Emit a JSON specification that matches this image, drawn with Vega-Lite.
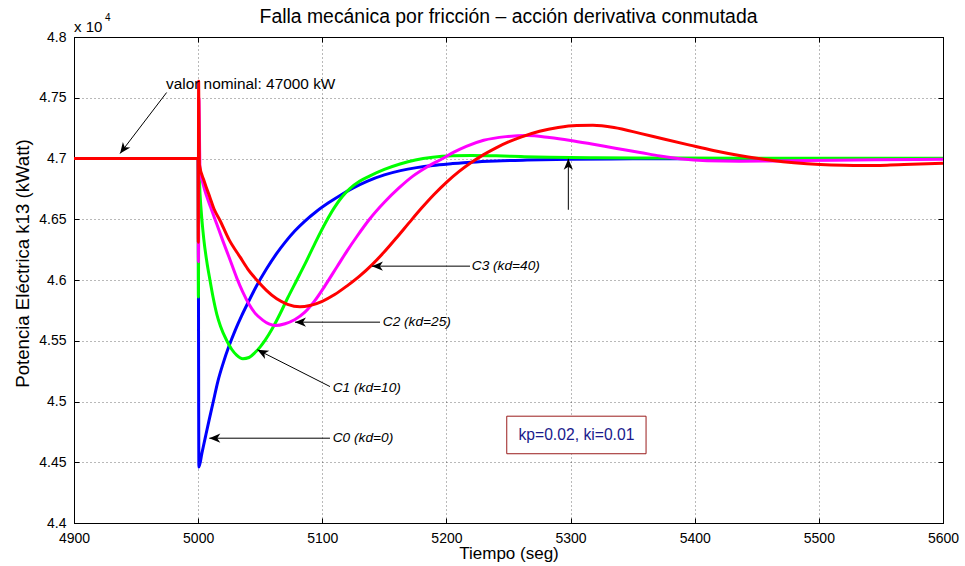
{
  "$schema": "https://vega.github.io/schema/vega-lite/v6.json",
  "width": 869,
  "height": 486,
  "autosize": {"type": "none"},
  "padding": {"left": 74, "top": 37, "right": 22, "bottom": 43},
  "background": "white",
  "config": {
    "font": "Liberation Sans",
    "view": {"stroke": "#000", "strokeWidth": 1},
    "axis": {"labelFont": "Liberation Sans", "titleFont": "Liberation Sans", "labelColor": "#000", "titleColor": "#000", "titleFontWeight": "normal"}
  },
  "datasets": {
    "curves": [
      {"s": "C0", "t": 4900, "p": 47000}, {"s": "C0", "t": 5000, "p": 47000}, {"s": "C0", "t": 5000.6, "p": 44460},
      {"s": "C0", "t": 5003, "p": 44573}, {"s": "C0", "t": 5006, "p": 44715}, {"s": "C0", "t": 5009, "p": 44855},
      {"s": "C0", "t": 5012, "p": 44990}, {"s": "C0", "t": 5016, "p": 45170}, {"s": "C0", "t": 5020, "p": 45310},
      {"s": "C0", "t": 5025, "p": 45460}, {"s": "C0", "t": 5030, "p": 45590}, {"s": "C0", "t": 5035, "p": 45705},
      {"s": "C0", "t": 5040, "p": 45810}, {"s": "C0", "t": 5047, "p": 45950}, {"s": "C0", "t": 5055, "p": 46090},
      {"s": "C0", "t": 5063, "p": 46215}, {"s": "C0", "t": 5070, "p": 46310}, {"s": "C0", "t": 5078, "p": 46405},
      {"s": "C0", "t": 5086, "p": 46485}, {"s": "C0", "t": 5095, "p": 46562}, {"s": "C0", "t": 5105, "p": 46635},
      {"s": "C0", "t": 5115, "p": 46700}, {"s": "C0", "t": 5125, "p": 46758}, {"s": "C0", "t": 5136, "p": 46812},
      {"s": "C0", "t": 5150, "p": 46865}, {"s": "C0", "t": 5163, "p": 46900}, {"s": "C0", "t": 5176, "p": 46925},
      {"s": "C0", "t": 5189, "p": 46943}, {"s": "C0", "t": 5205, "p": 46958}, {"s": "C0", "t": 5220, "p": 46970},
      {"s": "C0", "t": 5240, "p": 46980}, {"s": "C0", "t": 5265, "p": 46987}, {"s": "C0", "t": 5300, "p": 46993},
      {"s": "C0", "t": 5350, "p": 46997}, {"s": "C0", "t": 5420, "p": 46999}, {"s": "C0", "t": 5500, "p": 47000},
      {"s": "C0", "t": 5600, "p": 47000},

      {"s": "C1", "t": 4900, "p": 47000}, {"s": "C1", "t": 5000, "p": 47000}, {"s": "C1", "t": 5000.2, "p": 45860},
      {"s": "C1", "t": 5000.6, "p": 46900}, {"s": "C1", "t": 5001.5, "p": 46710}, {"s": "C1", "t": 5003, "p": 46500},
      {"s": "C1", "t": 5004.5, "p": 46340}, {"s": "C1", "t": 5007, "p": 46150}, {"s": "C1", "t": 5009.5, "p": 46000},
      {"s": "C1", "t": 5012, "p": 45860}, {"s": "C1", "t": 5015, "p": 45720}, {"s": "C1", "t": 5018, "p": 45620},
      {"s": "C1", "t": 5023, "p": 45502}, {"s": "C1", "t": 5027, "p": 45430}, {"s": "C1", "t": 5031, "p": 45382},
      {"s": "C1", "t": 5036, "p": 45352}, {"s": "C1", "t": 5041, "p": 45362}, {"s": "C1", "t": 5046, "p": 45405},
      {"s": "C1", "t": 5050, "p": 45450}, {"s": "C1", "t": 5054, "p": 45505}, {"s": "C1", "t": 5060, "p": 45605},
      {"s": "C1", "t": 5066, "p": 45722}, {"s": "C1", "t": 5072, "p": 45850}, {"s": "C1", "t": 5079, "p": 45990},
      {"s": "C1", "t": 5086, "p": 46130}, {"s": "C1", "t": 5094, "p": 46300}, {"s": "C1", "t": 5103.6, "p": 46490},
      {"s": "C1", "t": 5110, "p": 46600}, {"s": "C1", "t": 5116, "p": 46685}, {"s": "C1", "t": 5122, "p": 46750},
      {"s": "C1", "t": 5130, "p": 46812}, {"s": "C1", "t": 5138, "p": 46855}, {"s": "C1", "t": 5150, "p": 46910},
      {"s": "C1", "t": 5162.6, "p": 46955}, {"s": "C1", "t": 5175, "p": 46988}, {"s": "C1", "t": 5189, "p": 47010},
      {"s": "C1", "t": 5205, "p": 47022}, {"s": "C1", "t": 5220, "p": 47025}, {"s": "C1", "t": 5240, "p": 47022},
      {"s": "C1", "t": 5260, "p": 47016}, {"s": "C1", "t": 5283, "p": 47010}, {"s": "C1", "t": 5320, "p": 47006},
      {"s": "C1", "t": 5380, "p": 47004}, {"s": "C1", "t": 5450, "p": 47003}, {"s": "C1", "t": 5600, "p": 47002},

      {"s": "C2", "t": 4900, "p": 47000}, {"s": "C2", "t": 5000, "p": 47000}, {"s": "C2", "t": 5000.2, "p": 46150},
      {"s": "C2", "t": 5000.6, "p": 47500}, {"s": "C2", "t": 5001.5, "p": 46900}, {"s": "C2", "t": 5002.5, "p": 46850},
      {"s": "C2", "t": 5005, "p": 46750}, {"s": "C2", "t": 5010, "p": 46600}, {"s": "C2", "t": 5015, "p": 46460},
      {"s": "C2", "t": 5020, "p": 46320}, {"s": "C2", "t": 5025, "p": 46185}, {"s": "C2", "t": 5031, "p": 46020},
      {"s": "C2", "t": 5036, "p": 45900}, {"s": "C2", "t": 5041, "p": 45800}, {"s": "C2", "t": 5046, "p": 45725},
      {"s": "C2", "t": 5052, "p": 45670}, {"s": "C2", "t": 5057, "p": 45638}, {"s": "C2", "t": 5062, "p": 45625},
      {"s": "C2", "t": 5070, "p": 45640}, {"s": "C2", "t": 5078, "p": 45675}, {"s": "C2", "t": 5086, "p": 45735},
      {"s": "C2", "t": 5094, "p": 45830}, {"s": "C2", "t": 5102, "p": 45950}, {"s": "C2", "t": 5112, "p": 46111},
      {"s": "C2", "t": 5120, "p": 46240}, {"s": "C2", "t": 5128, "p": 46360}, {"s": "C2", "t": 5138, "p": 46500},
      {"s": "C2", "t": 5150, "p": 46640}, {"s": "C2", "t": 5162, "p": 46760}, {"s": "C2", "t": 5173, "p": 46855},
      {"s": "C2", "t": 5184, "p": 46928}, {"s": "C2", "t": 5197, "p": 47000}, {"s": "C2", "t": 5206, "p": 47052},
      {"s": "C2", "t": 5216, "p": 47100}, {"s": "C2", "t": 5230, "p": 47150}, {"s": "C2", "t": 5248, "p": 47180},
      {"s": "C2", "t": 5265, "p": 47189}, {"s": "C2", "t": 5283, "p": 47172}, {"s": "C2", "t": 5300, "p": 47148},
      {"s": "C2", "t": 5316, "p": 47121}, {"s": "C2", "t": 5336, "p": 47085}, {"s": "C2", "t": 5356, "p": 47050},
      {"s": "C2", "t": 5372, "p": 47020}, {"s": "C2", "t": 5388, "p": 46998}, {"s": "C2", "t": 5410, "p": 46982},
      {"s": "C2", "t": 5436, "p": 46978}, {"s": "C2", "t": 5465, "p": 46980}, {"s": "C2", "t": 5490, "p": 46983},
      {"s": "C2", "t": 5545, "p": 46990}, {"s": "C2", "t": 5600, "p": 46994},

      {"s": "C3", "t": 4900, "p": 47000}, {"s": "C3", "t": 5000, "p": 47000}, {"s": "C3", "t": 5000.1, "p": 46310},
      {"s": "C3", "t": 5000.4, "p": 47636}, {"s": "C3", "t": 5001, "p": 46950}, {"s": "C3", "t": 5005, "p": 46810},
      {"s": "C3", "t": 5009.5, "p": 46680}, {"s": "C3", "t": 5013, "p": 46580}, {"s": "C3", "t": 5017.6, "p": 46490},
      {"s": "C3", "t": 5025, "p": 46330}, {"s": "C3", "t": 5033.7, "p": 46190}, {"s": "C3", "t": 5040, "p": 46090},
      {"s": "C3", "t": 5047.2, "p": 46000}, {"s": "C3", "t": 5055, "p": 45915}, {"s": "C3", "t": 5063.3, "p": 45845},
      {"s": "C3", "t": 5072, "p": 45800}, {"s": "C3", "t": 5082, "p": 45780}, {"s": "C3", "t": 5090, "p": 45790},
      {"s": "C3", "t": 5100, "p": 45825}, {"s": "C3", "t": 5110, "p": 45880}, {"s": "C3", "t": 5120, "p": 45952},
      {"s": "C3", "t": 5130, "p": 46032}, {"s": "C3", "t": 5140, "p": 46125}, {"s": "C3", "t": 5150, "p": 46232},
      {"s": "C3", "t": 5160, "p": 46350}, {"s": "C3", "t": 5170, "p": 46472}, {"s": "C3", "t": 5180, "p": 46592},
      {"s": "C3", "t": 5190, "p": 46704}, {"s": "C3", "t": 5200, "p": 46804}, {"s": "C3", "t": 5210, "p": 46892},
      {"s": "C3", "t": 5220, "p": 46967}, {"s": "C3", "t": 5230, "p": 47032}, {"s": "C3", "t": 5240, "p": 47088},
      {"s": "C3", "t": 5250, "p": 47136}, {"s": "C3", "t": 5260, "p": 47176}, {"s": "C3", "t": 5275, "p": 47224},
      {"s": "C3", "t": 5290, "p": 47255}, {"s": "C3", "t": 5305, "p": 47271}, {"s": "C3", "t": 5318, "p": 47273},
      {"s": "C3", "t": 5335, "p": 47255}, {"s": "C3", "t": 5356, "p": 47207}, {"s": "C3", "t": 5375, "p": 47160},
      {"s": "C3", "t": 5396, "p": 47110}, {"s": "C3", "t": 5415, "p": 47066}, {"s": "C3", "t": 5436, "p": 47025},
      {"s": "C3", "t": 5450, "p": 47002}, {"s": "C3", "t": 5463, "p": 46984}, {"s": "C3", "t": 5480, "p": 46966},
      {"s": "C3", "t": 5501, "p": 46951}, {"s": "C3", "t": 5520, "p": 46944}, {"s": "C3", "t": 5535, "p": 46942},
      {"s": "C3", "t": 5555, "p": 46945}, {"s": "C3", "t": 5575, "p": 46952}, {"s": "C3", "t": 5600, "p": 46961}
    ],
    "arrows": [
      {"id": "nominal", "t": 4974.6, "p": 47543, "t2": 4937.1, "p2": 47041},
      {"id": "C3", "t": 5219, "p": 46114, "t2": 5140, "p2": 46114},
      {"id": "C2", "t": 5146.5, "p": 45653, "t2": 5078, "p2": 45653},
      {"id": "C1", "t": 5106.2, "p": 45123, "t2": 5047.7, "p2": 45426},
      {"id": "C0", "t": 5106.2, "p": 44698, "t2": 5009, "p2": 44698},
      {"id": "peak", "t": 5298.2, "p": 46578, "t2": 5298.2, "p2": 46998}
    ],
    "labels": [
      {"id": "C3", "text": "C3 (kd=40)", "t": 5220.4, "p": 46114},
      {"id": "C2", "text": "C2 (kd=25)", "t": 5148.7, "p": 45653},
      {"id": "C1", "text": "C1 (kd=10)", "t": 5108.4, "p": 45109},
      {"id": "C0", "text": "C0 (kd=0)", "t": 5108.4, "p": 44698}
    ]
  },
  "layer": [
    {
      "data": {"name": "curves"},
      "mark": {"type": "line", "strokeWidth": 3, "strokeJoin": "round", "interpolate": "monotone"},
      "encoding": {
        "x": {
          "field": "t", "type": "quantitative",
          "scale": {"domain": [4900, 5600], "nice": false, "zero": false},
          "axis": {
            "orient": "bottom", "values": [4900, 5000, 5100, 5200, 5300, 5400, 5500, 5600], "format": "d",
            "grid": true, "gridDash": [1, 3], "gridColor": "#000", "gridOpacity": 0.55, "gridWidth": 1,
            "domainColor": "#000", "tickColor": "#000", "tickSize": -5, "labelPadding": 13,
            "labelFontSize": 14, "labelFlush": false, "labelOverlap": false,
            "title": "Tiempo (seg)", "titleFontSize": 17, "titleBaseline": "alphabetic", "titleY": 35
          }
        },
        "y": {
          "field": "p", "type": "quantitative",
          "scale": {"domain": [44000, 48000], "nice": false, "zero": false},
          "axis": {
            "orient": "left", "values": [44000, 44500, 45000, 45500, 46000, 46500, 47000, 47500, 48000],
            "labelExpr": "format(datum.value / 10000, '.3~f')",
            "grid": true, "gridDash": [1, 3], "gridColor": "#000", "gridOpacity": 0.55, "gridWidth": 1,
            "domainColor": "#000", "tickColor": "#000", "tickSize": -5, "labelPadding": 13,
            "labelFontSize": 14, "labelFlush": false, "labelOverlap": false,
            "title": "Potencia Eléctrica k13 (kWatt)", "titleFontSize": 18.6,
            "titleAngle": -90, "titleBaseline": "middle", "titleAlign": "center", "titleX": -52, "titleY": 226
          }
        },
        "color": {
          "field": "s", "type": "nominal",
          "scale": {"domain": ["C0", "C1", "C2", "C3"], "range": ["#0000ff", "#00ff00", "#ff00ff", "#ff0000"]},
          "legend": null
        },
        "order": {"value": null}
      }
    },
    {
      "data": {"name": "arrows"},
      "mark": {"type": "rule", "color": "#000", "strokeWidth": 1},
      "encoding": {
        "x": {"field": "t", "type": "quantitative", "axis": null},
        "y": {"field": "p", "type": "quantitative", "axis": null},
        "x2": {"field": "t2"},
        "y2": {"field": "p2"}
      }
    },
    {
      "data": {"name": "arrows"},
      "transform": [{"filter": "datum.id === 'C3' || datum.id === 'C2' || datum.id === 'C0'"}],
      "mark": {"type": "point", "shape": "M0,0L-1,-0.42L-0.72,0L-1,0.42Z", "filled": true, "color": "#000", "size": 484, "angle": 180, "opacity": 1},
      "encoding": {
        "x": {"field": "t2", "type": "quantitative", "axis": null},
        "y": {"field": "p2", "type": "quantitative", "axis": null}
      }
    },
    {
      "data": {"name": "arrows"},
      "transform": [{"filter": "datum.id === 'C1'"}],
      "mark": {"type": "point", "shape": "M0,0L-1,-0.42L-0.72,0L-1,0.42Z", "filled": true, "color": "#000", "size": 484, "angle": 207.4, "opacity": 1},
      "encoding": {
        "x": {"field": "t2", "type": "quantitative", "axis": null},
        "y": {"field": "p2", "type": "quantitative", "axis": null}
      }
    },
    {
      "data": {"name": "arrows"},
      "transform": [{"filter": "datum.id === 'nominal'"}],
      "mark": {"type": "point", "shape": "M0,0L-1,-0.42L-0.72,0L-1,0.42Z", "filled": true, "color": "#000", "size": 484, "angle": 126.5, "opacity": 1},
      "encoding": {
        "x": {"field": "t2", "type": "quantitative", "axis": null},
        "y": {"field": "p2", "type": "quantitative", "axis": null}
      }
    },
    {
      "data": {"name": "arrows"},
      "transform": [{"filter": "datum.id === 'peak'"}],
      "mark": {"type": "point", "shape": "M0,0L-1,-0.42L-0.72,0L-1,0.42Z", "filled": true, "color": "#000", "size": 484, "angle": 270, "opacity": 1},
      "encoding": {
        "x": {"field": "t2", "type": "quantitative", "axis": null},
        "y": {"field": "p2", "type": "quantitative", "axis": null}
      }
    },
    {
      "data": {"name": "labels"},
      "mark": {"type": "text", "align": "left", "baseline": "middle", "fontSize": 13.7, "fontStyle": "italic", "color": "#000"},
      "encoding": {
        "x": {"field": "t", "type": "quantitative", "axis": null},
        "y": {"field": "p", "type": "quantitative", "axis": null},
        "text": {"field": "text"}
      }
    },
    {
      "data": {"values": [{"text": "valor nominal: 47000 kW", "t": 4974.1, "p": 47568}]},
      "mark": {"type": "text", "align": "left", "baseline": "alphabetic", "fontSize": 15.4, "color": "#000"},
      "encoding": {
        "x": {"field": "t", "type": "quantitative", "axis": null},
        "y": {"field": "p", "type": "quantitative", "axis": null},
        "text": {"field": "text"}
      }
    },
    {
      "data": {"values": [{"t": 5248.6, "p": 44879, "t2": 5360.8, "p2": 44570}]},
      "mark": {"type": "rect", "fill": "#ffffff", "stroke": "#9a1c1c", "strokeWidth": 1},
      "encoding": {
        "x": {"field": "t", "type": "quantitative", "axis": null},
        "y": {"field": "p", "type": "quantitative", "axis": null},
        "x2": {"field": "t2"},
        "y2": {"field": "p2"}
      }
    },
    {
      "data": {"values": [{"text": "kp=0.02, ki=0.01", "t": 5304.7, "p": 44724}]},
      "mark": {"type": "text", "align": "center", "baseline": "middle", "fontSize": 15.7, "color": "#1a1a8c"},
      "encoding": {
        "x": {"field": "t", "type": "quantitative", "axis": null},
        "y": {"field": "p", "type": "quantitative", "axis": null},
        "text": {"field": "text"}
      }
    },
    {
      "data": {"values": [{"text": "Falla mecánica por fricción – acción derivativa conmutada", "t": 5250, "p": 48000}]},
      "mark": {"type": "text", "align": "center", "baseline": "alphabetic", "fontSize": 19.4, "color": "#000", "dy": -13.7},
      "encoding": {
        "x": {"field": "t", "type": "quantitative", "axis": null},
        "y": {"field": "p", "type": "quantitative", "axis": null},
        "text": {"field": "text"}
      }
    },
    {
      "data": {"values": [{"text": "x 10", "t": 4900, "p": 48000}]},
      "mark": {"type": "text", "align": "left", "baseline": "alphabetic", "fontSize": 15, "color": "#000", "dy": -5.5},
      "encoding": {
        "x": {"field": "t", "type": "quantitative", "axis": {"orient": "top", "values": [4900, 5000, 5100, 5200, 5300, 5400, 5500, 5600], "labels": false, "grid": false, "title": null, "tickSize": -5, "tickColor": "#000", "domainColor": "#000"}},
        "y": {"field": "p", "type": "quantitative", "axis": {"orient": "right", "values": [44000, 44500, 45000, 45500, 46000, 46500, 47000, 47500, 48000], "labels": false, "grid": false, "title": null, "tickSize": -5, "tickColor": "#000", "domainColor": "#000"}},
        "text": {"field": "text"}
      }
    },
    {
      "data": {"values": [{"text": "4", "t": 4900, "p": 48000}]},
      "mark": {"type": "text", "align": "left", "baseline": "alphabetic", "fontSize": 10, "color": "#000", "dx": 31, "dy": -16.3},
      "encoding": {
        "x": {"field": "t", "type": "quantitative", "axis": null},
        "y": {"field": "p", "type": "quantitative", "axis": null},
        "text": {"field": "text"}
      }
    }
  ],
  "resolve": {"axis": {"x": "independent", "y": "independent"}}
}
